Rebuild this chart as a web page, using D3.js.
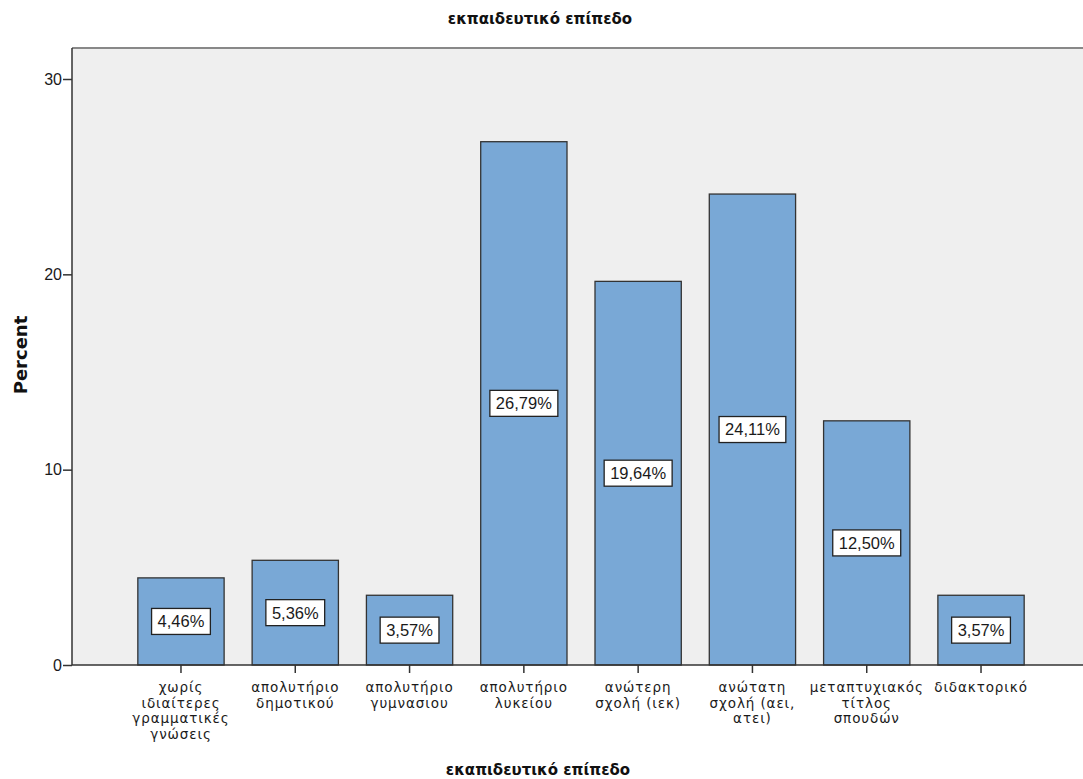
<!DOCTYPE html>
<html>
<head>
<meta charset="utf-8">
<script src="https://cdn.jsdelivr.net/npm/d3@7"></script>
<style>
  html, body { margin: 0; padding: 0; background: #fff; }
  svg { display: block; font-family: "DejaVu Sans", Verdana, sans-serif; }
</style>
</head>
<body>
<svg id="chart" width="1083" height="779"></svg>
<script>
// Education level distribution (percent of respondents)
const categories = [
  ["χωρίς", "ιδιαίτερες", "γραμματικές", "γνώσεις"],
  ["απολυτήριο", "δημοτικού"],
  ["απολυτήριο", "γυμνασιου"],
  ["απολυτήριο", "λυκείου"],
  ["ανώτερη", "σχολή (ιεκ)"],
  ["ανώτατη", "σχολή (αει,", "ατει)"],
  ["μεταπτυχιακός", "τίτλος", "σπουδών"],
  ["διδακτορικό"]
];
const percents = [4.46, 5.36, 3.57, 26.79, 19.64, 24.11, 12.50, 3.57];
const yTicks = [0, 10, 20, 30];
const chartTitle = "εκπαιδευτικό επίπεδο";
const xTitle = "εκαπιδευτικό επίπεδο";
const yTitle = "Percent";

const svg = d3.select("#chart");
const plotLeft = 72, plotTop = 48, plotBottom = 665, plotRight = 1090;
const textColor = "#1a1a1a";
const sansArial = "Liberation Sans, Arial, sans-serif";

// plot background
svg.append("rect")
  .attr("x", plotLeft).attr("y", plotTop)
  .attr("width", plotRight - plotLeft).attr("height", plotBottom - plotTop)
  .attr("fill", "#efefef");
svg.append("line")
  .attr("x1", plotLeft).attr("x2", plotRight).attr("y1", plotTop).attr("y2", plotTop)
  .attr("stroke", "#888").attr("stroke-width", 2);

const x = d3.scaleBand()
  .domain(d3.range(categories.length))
  .range([plotLeft, plotRight])
  .paddingInner(0.245)
  .paddingOuter(0.576);

const y = d3.scaleLinear().domain([0, 30]).range([665, 79]);

// bars
svg.append("g").selectAll("rect")
  .data(percents)
  .join("rect")
  .attr("x", (d, i) => x(i))
  .attr("y", d => y(d))
  .attr("width", x.bandwidth())
  .attr("height", d => y(0) - y(d))
  .attr("fill", "#79a8d6")
  .attr("stroke", "#333")
  .attr("stroke-width", 1.3);

// value labels in white boxes at mid-height of each bar
const fmt = d => d.toFixed(2).replace(".", ",") + "%";
const lab = svg.append("g").selectAll("g")
  .data(percents)
  .join("g")
  .attr("transform", (d, i) => `translate(${x(i) + x.bandwidth() / 2},${(y(d) + y(0)) / 2})`);
lab.append("rect")
  .attr("fill", "#fff").attr("stroke", "#222").attr("stroke-width", 1.3);
const labTexts = lab.append("text")
  .attr("text-anchor", "middle").attr("dy", "0.36em")
  .attr("font-family", sansArial)
  .attr("font-size", 16.5).attr("fill", textColor)
  .text(fmt);
labTexts.each(function () {
  const w = this.getComputedTextLength();
  d3.select(this.previousSibling)
    .attr("x", -w / 2 - 6).attr("y", -13)
    .attr("width", w + 12).attr("height", 26);
});

// y axis
const yAxis = svg.append("g")
  .attr("transform", `translate(${plotLeft},0)`)
  .call(d3.axisLeft(y).tickValues(yTicks).tickSize(9).tickPadding(1).tickFormat(d3.format("d")));
yAxis.select(".domain").attr("d", `M0,${plotTop}V${plotBottom}`).attr("stroke", "#333").attr("stroke-width", 1.5);
yAxis.selectAll(".tick line").attr("stroke", "#333").attr("stroke-width", 1.5);
yAxis.selectAll(".tick text").attr("font-size", 16).attr("fill", textColor)
  .attr("font-family", sansArial);

// x axis
const xAxis = svg.append("g")
  .attr("transform", `translate(0,${plotBottom})`)
  .call(d3.axisBottom(x).tickSize(8).tickFormat(""));
xAxis.select(".domain").attr("d", `M${plotLeft},0H${plotRight}`).attr("stroke", "#333").attr("stroke-width", 1.5);
xAxis.selectAll(".tick line").attr("stroke", "#333").attr("stroke-width", 1.5);

// wrapped category labels under each tick
const xl = svg.append("g").selectAll("text")
  .data(categories)
  .join("text")
  .attr("text-anchor", "middle")
  .attr("font-size", 13.5)
  .attr("letter-spacing", 0.9)
  .attr("fill", textColor)
  .attr("transform", (d, i) => `translate(${x(i) + x.bandwidth() / 2},${plotBottom + 27})`);
xl.selectAll("tspan")
  .data(d => d)
  .join("tspan")
  .attr("x", 0)
  .attr("y", (d, j) => j * 15.7)
  .text(d => d);

// titles
svg.append("text")
  .attr("x", 540).attr("y", 24)
  .attr("text-anchor", "middle")
  .attr("font-size", 15).attr("font-weight", "bold")
  .attr("fill", "#111")
  .text(chartTitle);
svg.append("text")
  .attr("x", 538).attr("y", 775)
  .attr("text-anchor", "middle")
  .attr("font-size", 15).attr("font-weight", "bold")
  .attr("fill", "#111")
  .text(xTitle);
svg.append("text")
  .attr("transform", "translate(27,355) rotate(-90)")
  .attr("text-anchor", "middle")
  .attr("font-size", 18).attr("font-weight", "bold")
  .attr("fill", "#111")
  .text(yTitle);
</script>
</body>
</html>
